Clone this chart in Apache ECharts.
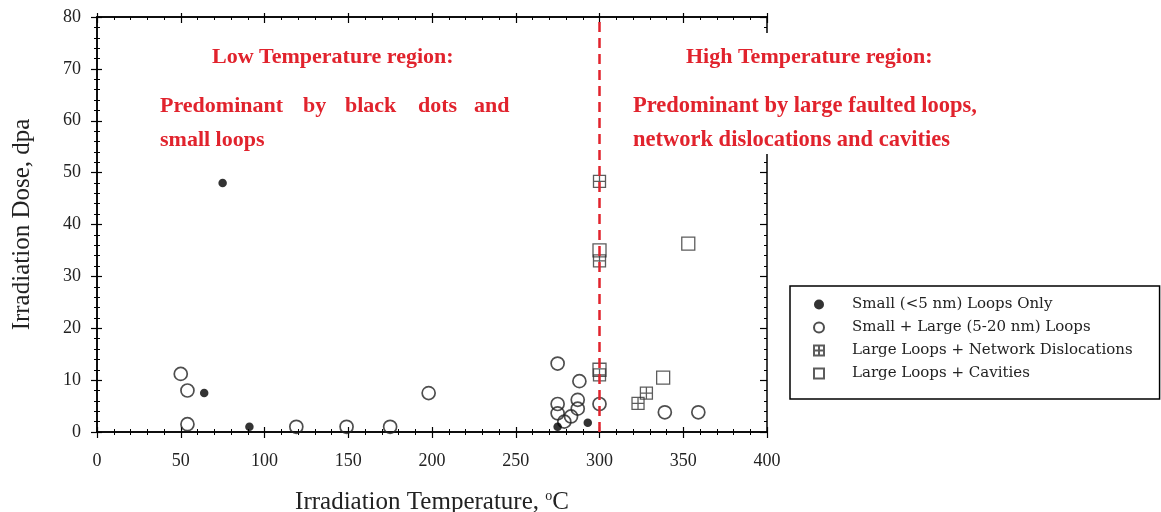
<!DOCTYPE html>
<html>
<head>
    <meta charset="utf-8" />
    <title>Irradiation Dose vs Temperature</title>
    <script src="https://cdn.jsdelivr.net/npm/echarts@6/dist/echarts.min.js"></script>
    <style>
        html, body { margin: 0; padding: 0; background: #fff; }
        #main { width: 1161px; height: 512px; }
    </style>
</head>
<body>
    <div id="main"></div>
    <script type="text/javascript">
        var myChart = echarts.init(document.getElementById('main'));

        // data: [temperature (C), dose (dpa)]
        var smallLoops = [[64, 7.5], [75, 48], [91, 1], [275, 1], [293, 1.8]];
        var mixedLoops = [[50, 11.2], [54, 8], [54, 1.5], [119, 1], [149, 1], [175, 1], [198, 7.5],
            [275, 13.2], [275, 5.4], [275, 3.6], [288, 9.8], [287, 6.2], [287, 4.5], [283, 3], [279, 2],
            [300, 5.4], [339, 3.8], [359, 3.8]];
        var networkDisloc = [[300, 48.3], [300, 33], [300, 11], [323, 5.5], [328, 7.5]];
        var cavities = [[300, 35], [300, 12], [338, 10.5], [353, 36.3]];
        var boundaryTemp = 300;

        var red = '#e1232d';
        var serif = '"Liberation Serif", "Times New Roman", serif';
        var plusSquare = 'path://M0,0L10,0L10,10L0,10Z M5,0L5,10 M0,5L10,5';

        function xAx(opt) {
            return Object.assign({
                type: 'value', min: 0, max: 400, interval: 50,
                axisLine: { show: true, onZero: false, lineStyle: { color: '#000', width: 1.5 } },
                axisTick: { show: true, length: 5, lineStyle: { color: '#000', width: 1.2 } },
                minorTick: { show: true, splitNumber: 5, length: 3, lineStyle: { color: '#000' } },
                axisLabel: { show: false },
                splitLine: { show: false }
            }, opt);
        }
        function yAx(opt) {
            return Object.assign({
                type: 'value', min: 0, max: 80, interval: 10,
                axisLine: { show: true, onZero: false, lineStyle: { color: '#000', width: 1.5 } },
                axisTick: { show: true, length: 5, lineStyle: { color: '#000', width: 1.2 } },
                minorTick: { show: true, splitNumber: 5, length: 3, lineStyle: { color: '#000' } },
                axisLabel: { show: false },
                splitLine: { show: false }
            }, opt);
        }

        var option = {
            animation: false,
            backgroundColor: '#fff',
            grid: { left: 97, top: 17, width: 670, height: 415, containLabel: false, outerBoundsMode: 'none' },
            xAxis: [
                xAx({
                    position: 'bottom',
                    axisTick: { show: true, inside: false, length: 6, lineStyle: { color: '#000', width: 1.2 } },
                    axisLabel: { show: true, margin: 20, fontFamily: serif, fontSize: 18, color: '#222' },
                    name: 'Irradiation Temperature, {sup|o}C',
                    nameLocation: 'middle',
                    nameGap: 57,
                    nameTextStyle: {
                        fontFamily: serif, fontSize: 25, color: '#222',
                        rich: { sup: { fontFamily: serif, fontSize: 14, color: '#222', verticalAlign: 'top', padding: [0, 0, 12, 0] } }
                    }
                }),
                xAx({
                    position: 'bottom',
                    axisTick: { show: true, inside: true, length: 5, lineStyle: { color: '#000', width: 1.2 } }
                }),
                xAx({
                    position: 'top',
                    axisTick: { show: true, inside: true, length: 6, lineStyle: { color: '#000', width: 1.2 } }
                }),
                xAx({
                    position: 'top',
                    axisTick: { show: true, inside: false, length: 4, lineStyle: { color: '#000', width: 1.2 } },
                    minorTick: { show: false }
                })
            ],
            yAxis: [
                yAx({
                    position: 'left',
                    axisTick: { show: true, inside: false, length: 6, lineStyle: { color: '#000', width: 1.2 } },
                    axisLabel: { show: true, margin: 16, fontFamily: serif, fontSize: 18, color: '#222' },
                    name: 'Irradiation Dose, dpa',
                    nameLocation: 'middle',
                    nameGap: 62,
                    nameTextStyle: { fontFamily: serif, fontSize: 25, color: '#222' }
                }),
                yAx({
                    position: 'left',
                    axisTick: { show: true, inside: true, length: 5, lineStyle: { color: '#000', width: 1.2 } }
                }),
                yAx({
                    position: 'right',
                    axisTick: { show: true, inside: true, length: 7, lineStyle: { color: '#000', width: 1.2 } }
                })
            ],
            legend: {
                orient: 'vertical',
                left: 790,
                top: 286,
                padding: [11, 27, 18, 23],
                itemGap: 8,
                itemWidth: 10,
                itemHeight: 10,
                borderColor: '#000',
                borderWidth: 1.5,
                textStyle: { fontFamily: '"DejaVu Serif", serif', fontSize: 15, color: '#222', padding: [0, 0, 0, 23] },
                data: [
                    { name: 'Small (<5 nm) Loops Only', icon: 'circle', itemStyle: { color: '#000', borderWidth: 0 } },
                    { name: 'Small + Large (5-20 nm) Loops' },
                    { name: 'Large Loops + Network Dislocations' },
                    { name: 'Large Loops + Cavities' }
                ]
            },
            series: [
                {
                    name: 'Small (<5 nm) Loops Only',
                    type: 'scatter',
                    data: smallLoops,
                    symbol: 'circle',
                    symbolSize: 8.5,
                    itemStyle: { color: '#000' },
                    z: 4
                },
                {
                    name: 'Small + Large (5-20 nm) Loops',
                    type: 'scatter',
                    data: mixedLoops,
                    symbol: 'circle',
                    symbolSize: 13,
                    itemStyle: { color: 'rgba(255,255,255,0)', borderColor: '#222', borderWidth: 1.7 },
                    z: 3
                },
                {
                    name: 'Large Loops + Network Dislocations',
                    type: 'scatter',
                    data: networkDisloc,
                    symbol: plusSquare,
                    symbolSize: 12,
                    itemStyle: { color: 'rgba(255,255,255,0)', borderColor: '#333', borderWidth: 1.3 },
                    z: 3
                },
                {
                    name: 'Large Loops + Cavities',
                    type: 'scatter',
                    data: cavities,
                    symbol: 'rect',
                    symbolSize: 13,
                    itemStyle: { color: 'rgba(255,255,255,0)', borderColor: '#333', borderWidth: 1.3 },
                    z: 3
                },
                {
                    name: 'boundary',
                    type: 'line',
                    data: [],
                    z: 6,
                    markLine: {
                        silent: true,
                        symbol: ['none', 'none'],
                        label: { show: false },
                        lineStyle: { color: red, type: [10, 6], width: 2.5 },
                        data: [{ xAxis: boundaryTemp }]
                    }
                }
            ],
            graphic: [
                // white box behind the high temperature note hides part of the right frame
                { type: 'rect', left: 630, top: 33, shape: { width: 360, height: 121 }, style: { fill: '#fff' }, z: 50 },
                { type: 'text', left: 212, top: 46, z: 60, style: { text: 'Low Temperature region:', fill: red, font: 'bold 22px ' + serif } },
                { type: 'text', left: 160, top: 95, z: 60, style: { text: 'Predominant', fill: red, font: 'bold 22px ' + serif } },
                { type: 'text', left: 303, top: 95, z: 60, style: { text: 'by', fill: red, font: 'bold 22px ' + serif } },
                { type: 'text', left: 345, top: 95, z: 60, style: { text: 'black', fill: red, font: 'bold 22px ' + serif } },
                { type: 'text', left: 418, top: 95, z: 60, style: { text: 'dots', fill: red, font: 'bold 22px ' + serif } },
                { type: 'text', left: 474, top: 95, z: 60, style: { text: 'and', fill: red, font: 'bold 22px ' + serif } },
                { type: 'text', left: 160, top: 129, z: 60, style: { text: 'small loops', fill: red, font: 'bold 22px ' + serif } },
                { type: 'text', left: 686, top: 46, z: 60, style: { text: 'High Temperature region:', fill: red, font: 'bold 22px ' + serif } },
                { type: 'text', left: 633, top: 95, z: 60, style: { text: 'Predominant by large faulted loops,', fill: red, font: 'bold 22.5px ' + serif } },
                { type: 'text', left: 633, top: 129, z: 60, style: { text: 'network dislocations and cavities', fill: red, font: 'bold 22.5px ' + serif } }
            ]
        };

        myChart.setOption(option);
    </script>
</body>
</html>
